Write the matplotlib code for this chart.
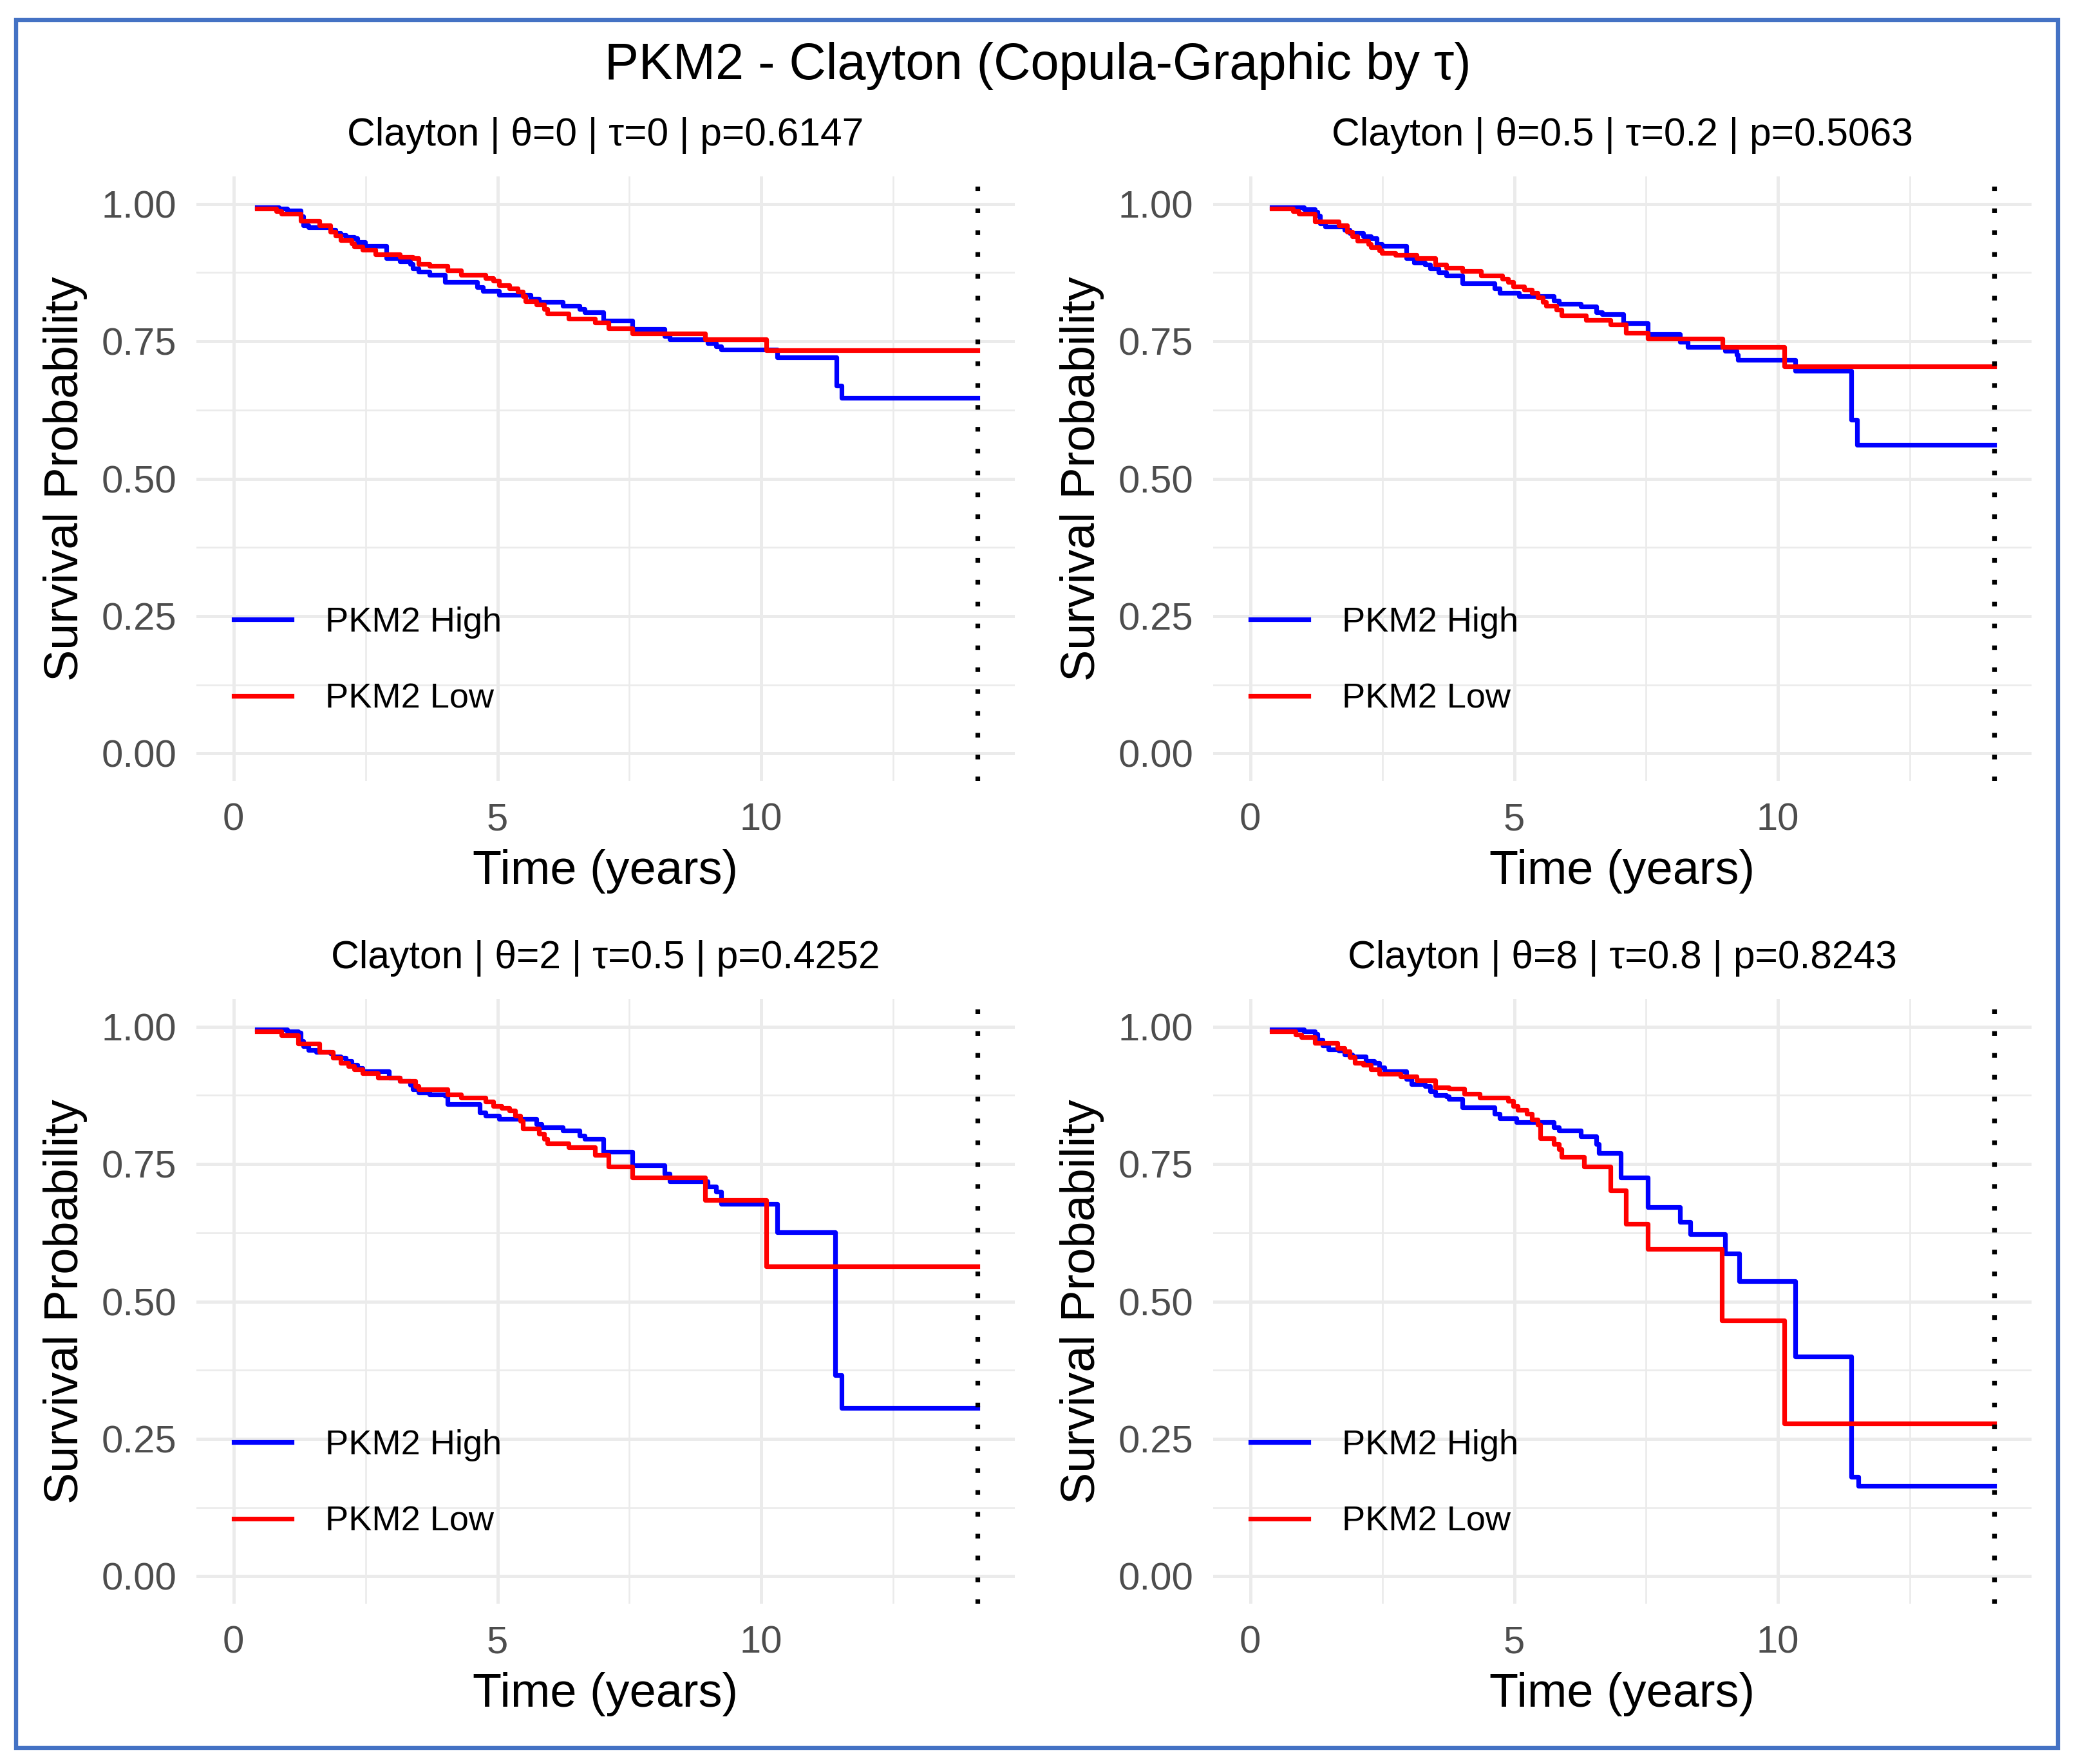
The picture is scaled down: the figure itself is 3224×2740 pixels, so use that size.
import numpy as np
import matplotlib
matplotlib.use("Agg")
import matplotlib.pyplot as plt
from matplotlib.patches import Rectangle

plt.rcParams['font.family'] = ['Liberation Sans', 'DejaVu Sans']

# ---- data ----
main_title = "PKM2 - Clayton (Copula-Graphic by \u03c4)"
thetas = ["0", "0.5", "2", "8"]
taus = ["0", "0.2", "0.5", "0.8"]
pvals = ["0.6147", "0.5063", "0.4252", "0.8243"]
group_labels = ["PKM2 High", "PKM2 Low"]
t_max = 14.1  # end of follow-up (dotted line)

# panel 1 : theta = 0
t_high_1 = [0.44, 0.86, 1.02, 1.27, 1.32, 1.42, 1.83, 1.93, 2.03, 2.13, 2.28, 2.34, 2.49, 2.89,
            3.15, 3.35, 3.40, 3.50, 3.71, 4.01, 4.62, 4.72, 5.03, 5.63, 5.79, 6.24, 6.55, 6.65,
            7.01, 7.56, 8.17, 8.27, 8.98, 9.14, 9.24, 10.30, 11.42, 11.52]
s_high_1 = [0.994, 0.991, 0.988, 0.977, 0.961, 0.957, 0.953, 0.947, 0.943, 0.940, 0.938, 0.930,
            0.924, 0.901, 0.895, 0.891, 0.883, 0.877, 0.871, 0.858, 0.848, 0.842, 0.834, 0.828,
            0.821, 0.815, 0.809, 0.803, 0.788, 0.772, 0.760, 0.754, 0.747, 0.741, 0.735, 0.721,
            0.669, 0.647]
t_low_1 = [0.44, 0.81, 0.91, 1.27, 1.62, 1.83, 1.93, 2.03, 2.23, 2.28, 2.44, 2.69, 3.15, 3.40,
           3.50, 3.71, 4.06, 4.31, 4.77, 4.92, 5.03, 5.23, 5.38, 5.48, 5.53, 5.74, 5.89, 5.94,
           6.35, 6.85, 7.11, 7.56, 8.93, 10.10]
s_low_1 = [0.992, 0.987, 0.982, 0.969, 0.961, 0.949, 0.942, 0.934, 0.928, 0.922, 0.916, 0.908,
           0.903, 0.901, 0.891, 0.887, 0.879, 0.871, 0.865, 0.860, 0.852, 0.846, 0.840, 0.832,
           0.823, 0.817, 0.809, 0.801, 0.791, 0.784, 0.774, 0.764, 0.754, 0.734]

# panel 2 : theta = 0.5
t_high_2 = [0.41, 1.02, 1.22, 1.27, 1.32, 1.42, 1.78, 1.88, 2.14, 2.29, 2.39, 2.49, 2.95, 3.10,
            3.31, 3.41, 3.56, 3.71, 4.02, 4.63, 4.73, 5.09, 5.75, 5.85, 6.26, 6.56, 6.66, 7.07,
            7.53, 8.14, 8.29, 9.00, 9.21, 9.24, 10.33, 11.39, 11.50]
s_high_2 = [0.994, 0.990, 0.986, 0.978, 0.964, 0.959, 0.953, 0.947, 0.941, 0.937, 0.927, 0.923,
            0.901, 0.893, 0.890, 0.882, 0.876, 0.870, 0.856, 0.846, 0.838, 0.832, 0.824, 0.818,
            0.813, 0.803, 0.799, 0.783, 0.763, 0.749, 0.740, 0.732, 0.726, 0.716, 0.696, 0.607,
            0.562]
t_low_2 = [0.41, 0.81, 0.92, 1.22, 1.68, 1.83, 1.93, 2.03, 2.24, 2.29, 2.44, 2.49, 2.75, 3.15,
           3.51, 3.71, 4.02, 4.37, 4.78, 4.88, 4.98, 5.19, 5.34, 5.44, 5.54, 5.60, 5.80, 5.90,
           6.36, 6.82, 7.12, 7.53, 8.95, 10.12]
s_low_2 = [0.991, 0.987, 0.982, 0.968, 0.961, 0.949, 0.941, 0.933, 0.927, 0.921, 0.915, 0.911,
           0.907, 0.901, 0.890, 0.884, 0.878, 0.870, 0.864, 0.858, 0.850, 0.844, 0.838, 0.830,
           0.822, 0.815, 0.807, 0.797, 0.789, 0.781, 0.765, 0.755, 0.740, 0.704]

# panel 3 : theta = 2
t_high_3 = [0.44, 1.02, 1.22, 1.27, 1.32, 1.42, 1.57, 1.83, 1.88, 2.03, 2.13, 2.23, 2.34, 2.44,
            2.94, 3.15, 3.35, 3.40, 3.50, 3.71, 4.01, 4.06, 4.67, 4.77, 5.03, 5.74, 5.84, 6.24,
            6.55, 6.65, 7.01, 7.56, 8.17, 8.27, 8.98, 9.14, 9.24, 10.30, 11.40, 11.52]
s_high_3 = [0.995, 0.992, 0.989, 0.974, 0.965, 0.957, 0.954, 0.952, 0.946, 0.943, 0.937, 0.931,
            0.925, 0.919, 0.907, 0.901, 0.894, 0.886, 0.880, 0.877, 0.874, 0.859, 0.844, 0.838,
            0.832, 0.823, 0.817, 0.811, 0.802, 0.796, 0.772, 0.748, 0.733, 0.718, 0.709, 0.700,
            0.678, 0.626, 0.366, 0.306]
t_low_3 = [0.44, 0.91, 1.22, 1.62, 1.88, 2.03, 2.18, 2.28, 2.44, 2.74, 3.15, 3.45, 3.50, 4.06,
           4.31, 4.77, 4.92, 5.08, 5.23, 5.33, 5.43, 5.48, 5.79, 5.89, 5.94, 6.35, 6.85, 7.11,
           7.56, 8.93, 10.10]
s_low_3 = [0.992, 0.984, 0.969, 0.954, 0.943, 0.934, 0.928, 0.922, 0.915, 0.907, 0.901, 0.892,
           0.886, 0.877, 0.871, 0.864, 0.856, 0.852, 0.847, 0.838, 0.829, 0.814, 0.805, 0.796,
           0.788, 0.780, 0.766, 0.746, 0.725, 0.685, 0.564]

# panel 4 : theta = 8
t_high_4 = [0.41, 1.02, 1.22, 1.27, 1.37, 1.48, 1.68, 1.78, 1.93, 2.19, 2.34, 2.44, 2.54, 2.95,
            3.05, 3.31, 3.41, 3.51, 3.71, 3.76, 4.02, 4.63, 4.73, 5.04, 5.75, 5.85, 6.26, 6.56,
            6.61, 7.02, 7.53, 8.14, 8.34, 9.00, 9.26, 10.33, 11.39, 11.52]
s_high_4 = [0.995, 0.991, 0.987, 0.976, 0.966, 0.959, 0.956, 0.949, 0.946, 0.937, 0.934, 0.926,
            0.919, 0.905, 0.895, 0.892, 0.883, 0.876, 0.873, 0.868, 0.853, 0.841, 0.833, 0.826,
            0.817, 0.811, 0.800, 0.787, 0.770, 0.726, 0.672, 0.645, 0.623, 0.587, 0.537, 0.400,
            0.181, 0.164]
t_low_4 = [0.41, 0.86, 0.97, 1.22, 1.65, 1.78, 1.88, 1.98, 2.14, 2.29, 2.44, 2.85, 3.15, 3.51,
           3.76, 4.05, 4.35, 4.88, 4.98, 5.07, 5.24, 5.34, 5.44, 5.49, 5.75, 5.85, 5.90, 6.33,
           6.82, 7.12, 7.53, 8.93, 10.12]
s_low_4 = [0.991, 0.986, 0.981, 0.970, 0.961, 0.955, 0.944, 0.934, 0.930, 0.922, 0.914, 0.909,
           0.902, 0.890, 0.887, 0.878, 0.871, 0.865, 0.855, 0.848, 0.841, 0.831, 0.821, 0.797,
           0.787, 0.777, 0.763, 0.746, 0.702, 0.641, 0.596, 0.465, 0.278]

panels = [
    (t_high_1, s_high_1, t_low_1, s_low_1),
    (t_high_2, s_high_2, t_low_2, s_low_2),
    (t_high_3, s_high_3, t_low_3, s_low_3),
    (t_high_4, s_high_4, t_low_4, s_low_4),
]

# ---- layout ----
W, H = 3224, 2740
fig = plt.figure(figsize=(W / 200, H / 200), dpi=200)
fig.patch.set_facecolor("white")

# blue frame round the whole chart
fig.add_artist(Rectangle((25 / W, 1 - 2715 / H), (3196 - 25) / W, (2715 - 31) / H,
                         transform=fig.transFigure, fill=False, edgecolor="#4472C4",
                         linewidth=2.3))

fig.text(0.5, 1 - 123 / H, main_title, ha="center", va="baseline", fontsize=28.6,
         color="black")

boxes = [(305, 274), (1884, 274), (305, 1552), (1884, 1552)]
aw, ah = 1271, 939
grid_col = "#EBEBEB"
x_lo, x_hi = -0.05 * t_max, 1.05 * t_max

for i, (th, sh, tl, sl) in enumerate(panels):
    lx, ty = boxes[i]
    ax = fig.add_axes([lx / W, 1 - (ty + ah) / H, aw / W, ah / H])
    ax.set_xlim(x_lo, x_hi)
    ax.set_ylim(-0.05, 1.05)
    ax.set_xticks([0, 5, 10])
    ax.set_xticks([2.5, 7.5, 12.5], minor=True)
    ax.set_yticks([0, 0.25, 0.5, 0.75, 1.0])
    ax.set_yticks([0.125, 0.375, 0.625, 0.875], minor=True)
    ax.set_yticklabels(["0.00", "0.25", "0.50", "0.75", "1.00"])
    ax.grid(True, which="major", color=grid_col, linewidth=1.8)
    ax.grid(True, which="minor", color=grid_col, linewidth=0.95)
    ax.set_axisbelow(True)
    for sp in ax.spines.values():
        sp.set_visible(False)
    ax.tick_params(which="both", length=0)
    ax.tick_params(axis="y", labelsize=21.5, labelcolor="#4D4D4D", pad=11)
    ax.tick_params(axis="x", labelsize=21.5, labelcolor="#4D4D4D", pad=12)

    ax.step(th + [t_max], sh + [sh[-1]], where="post", color="#0000FF", linewidth=2.6,
            label=group_labels[0])
    ax.step(tl + [t_max], sl + [sl[-1]], where="post", color="#FF0000", linewidth=2.6,
            label=group_labels[1])
    ax.axvline(t_max, color="black", linewidth=2.6, linestyle=(0, (1.0, 3.7)))

    ax.set_xlabel("Time (years)", fontsize=26.6)
    ax.xaxis.set_label_coords(0.5, -0.170)
    ax.xaxis.label.set_va("baseline")
    ax.set_ylabel("Survival Probability", fontsize=26.6)
    ax.yaxis.set_label_coords(-0.16, 0.5)
    ax.yaxis.label.set_va("center")

    sub = "Clayton | \u03b8=%s | \u03c4=%s | p=%s" % (thetas[i], taus[i], pvals[i])
    fig.text((lx + aw / 2) / W, 1 - (ty - 48) / H, sub, ha="center", va="baseline",
             fontsize=21.8, color="black")

    ax.legend(loc="center left", bbox_to_anchor=(0.0455, 0.199), frameon=False,
              fontsize=19.5, handlelength=1.66, handletextpad=0.96, labelspacing=1.27,
              borderpad=0, borderaxespad=0)

fig.savefig("out.png", dpi=200, facecolor="white")
